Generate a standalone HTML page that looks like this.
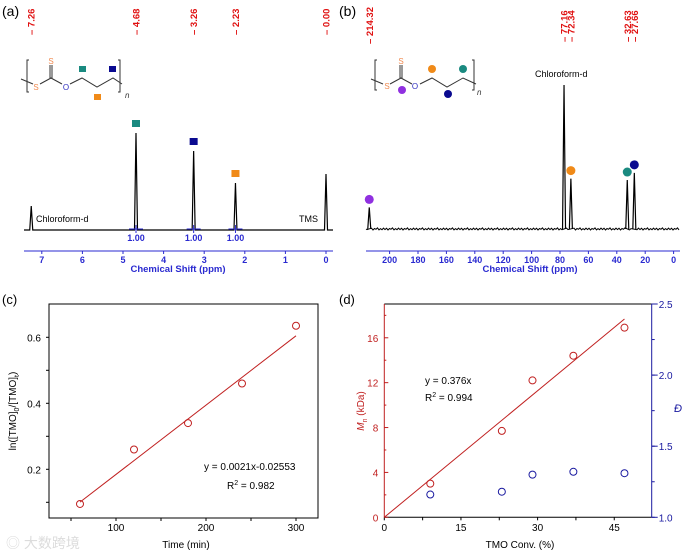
<!DOCTYPE html>
<html><head><meta charset="utf-8"><style>
html,body{margin:0;padding:0;background:#fff}
svg{display:block;font-family:"Liberation Sans",Arial,"Noto Sans CJK SC",sans-serif}
</style></head><body>
<svg id="fig" width="691" height="552" viewBox="0 0 691 552" xmlns="http://www.w3.org/2000/svg">
<g id="ga"></g>
<g id="gb"></g>
<g id="gc"></g>
<g id="gd"></g>
<text x="6" y="548" font-size="14" fill="#dcdcdc" font-family="'Liberation Sans','Noto Sans CJK SC',sans-serif">◎ 大数跨境</text>
</svg>
<script>
// ---- data ----
const hPeaksPpm = [7.26, 4.68, 3.26, 2.23, 0.00];
const hPeakLabels = ['7.26', '4.68', '3.26', '2.23', '0.00'];
const hPeakHeights = [0.24, 0.97, 0.79, 0.47, 0.56];
const hTicks = [7, 6, 5, 4, 3, 2, 1, 0];
const hIntegrals = [4.68, 3.26, 2.23];
const cPeaksPpm = [214.32, 77.16, 72.34, 32.63, 27.66];
const cPeakLabels = ['214.32', '77.16', '72.34', '32.63', '27.66'];
const cPeakHeights = [0.15, 1.0, 0.35, 0.34, 0.39];
const cTicks = [200, 180, 160, 140, 120, 100, 80, 60, 40, 20, 0];
const kinTime = [60, 120, 180, 240, 300];
const kinLn = [0.095, 0.26, 0.34, 0.46, 0.635];
const kinTicksX = [100, 200, 300];
const kinTicksY = [0.2, 0.4, 0.6];
const convX = [9, 23, 29, 37, 47];
const mnY = [3.0, 7.7, 12.2, 14.4, 16.9];
const dispY = [1.16, 1.18, 1.30, 1.32, 1.31];
const mnTicks = [0, 4, 8, 12, 16];
const dispTicks = [1.0, 1.5, 2.0, 2.5];
const convTicks = [0, 15, 30, 45];

const NS = 'http://www.w3.org/2000/svg';
function mk(parent, tag, attrs, text) {
  const e = document.createElementNS(NS, tag);
  for (const k in attrs) e.setAttribute(k, attrs[k]);
  if (text !== undefined) e.textContent = text;
  parent.appendChild(e);
  return e;
}
const RED = '#e01010', BLUE = '#2a2ad0';

// ---- panel (a) ----
(function () {
  const g = document.getElementById('ga');
  const x = p => 326 - p * 40.6;
  const base = 230, H = 100;
  const t = mk(g, 'text', { x: 2, y: 16, 'font-size': 14, fill: '#000' }, '(a)');
   
  let d = 'M24 ' + base;
  hPeaksPpm.forEach((p, i) => {
    const px = x(p);
    d += ` L${px - 1.5} ${base} L${px} ${base - hPeakHeights[i] * H} L${px + 1.5} ${base}`;
  });
  d += ' L333 ' + base;
  const sp = mk(g, 'path', { d: d, stroke: '#000', 'stroke-width': 1.2, fill: 'none' });
   
  hPeaksPpm.forEach((p, i) => {
    const px = x(p);
    const lb = mk(g, 'text', { x: 0, y: 0, transform: `translate(${px + 3.5},35) rotate(-90)`, 'font-size': 9.5, 'font-weight': 'bold', fill: RED }, '– ' + hPeakLabels[i]);
     
  });
  hIntegrals.forEach(p => {
    const px = x(p);
    mk(g, 'line', { x1: px - 7, x2: px + 7, y1: 229, y2: 229, stroke: BLUE, 'stroke-width': 1 });
    mk(g, 'line', { x1: px, x2: px, y1: 225, y2: 233, stroke: BLUE, 'stroke-width': 1 });
    const it = mk(g, 'text', { x: px, y: 241, 'font-size': 9, 'font-weight': 'bold', fill: BLUE, 'text-anchor': 'middle' }, '1.00');
     
  });
  mk(g, 'line', { x1: 24, x2: 333, y1: 251, y2: 251, stroke: BLUE, 'stroke-width': 1 });
  hTicks.forEach(v => {
    mk(g, 'line', { x1: x(v), x2: x(v), y1: 251, y2: 254, stroke: BLUE });
    const tl = mk(g, 'text', { x: x(v), y: 263, 'font-size': 9, 'font-weight': 'bold', fill: BLUE, 'text-anchor': 'middle' }, String(v));
     
  });
  const xt = mk(g, 'text', { x: 178, y: 272, 'font-size': 9.5, 'font-weight': 'bold', fill: BLUE, 'text-anchor': 'middle' }, 'Chemical Shift (ppm)');
   
  mk(g, 'text', { x: 36, y: 222, 'font-size': 9, fill: '#000' }, 'Chloroform-d');
  mk(g, 'text', { x: 299, y: 222, 'font-size': 9, fill: '#000' }, 'TMS');
  [[4.68, '#1a8a80'], [3.26, '#0a0a90'], [2.23, '#f08a18']].forEach((m, i) => {
    const r = mk(g, 'rect', { x: x(m[0]) - 4, y: base - hPeakHeights[i + 1] * H - 13, width: 8, height: 7, fill: m[1] });
     
  });
  const s = mk(g, 'g', { stroke: '#333', 'stroke-width': 1, fill: 'none' });
   
  mk(s, 'path', { d: 'M29 60 L27 60 L27 92 L29 92 M118 60 L120 60 L120 92 L118 92' });
  mk(s, 'path', { d: 'M21 79 L33 84 M40 84 L51 78 L62 84 M70 84 L82 78 L97 87 L113 78 L122 84 M50 78 L50 65 M52 78 L52 65' });
  mk(g, 'text', { x: 36, y: 90, 'font-size': 8, fill: '#f08a50', 'text-anchor': 'middle' }, 'S');
  mk(g, 'text', { x: 51, y: 64, 'font-size': 8, fill: '#f08a50', 'text-anchor': 'middle' }, 'S');
  mk(g, 'text', { x: 66, y: 90, 'font-size': 8, fill: '#3030c0', 'text-anchor': 'middle' }, 'O');
  mk(g, 'text', { x: 125, y: 98, 'font-size': 8, 'font-style': 'italic', fill: '#333' }, 'n');
  mk(g, 'rect', { x: 79, y: 66, width: 7, height: 6, fill: '#1a8a80' });
  mk(g, 'rect', { x: 109, y: 66, width: 7, height: 6, fill: '#0a0a90' });
  mk(g, 'rect', { x: 94, y: 94, width: 7, height: 6, fill: '#f08a18' });
})();

// ---- panel (b) ----
(function () {
  const g = document.getElementById('gb');
  const x = p => 673.6 - p * 1.42;
  const base = 229, H = 144;
  const t = mk(g, 'text', { x: 339, y: 16, 'font-size': 14, fill: '#000' }, '(b)');
   
  let d = 'M366 ' + base;
  const seq = [0.6, -0.8, 1.0, -0.5, 0.3, -1.1, 0.9, -0.4, 0.7, -0.9];
  let k = 0;
  const pk = cPeaksPpm.map(x);
  for (let xs = 367; xs < 680; xs += 1.5) {
    if (pk.some(p => Math.abs(p - xs) < 2)) continue;
    d += ` L${xs} ${base + seq[k++ % seq.length]}`;
  }
  const sp = mk(g, 'path', { d: d, stroke: '#000', 'stroke-width': 1, fill: 'none' });
   
  cPeaksPpm.forEach((p, i) => {
    const px = x(p);
    const pl = mk(g, 'path', { d: `M${px - 1.5} ${base} L${px} ${base - cPeakHeights[i] * H} L${px + 1.5} ${base}`, stroke: '#000', 'stroke-width': 1.2, fill: 'none' });
     
    const lb = mk(g, 'text', { x: 0, y: 0, transform: `translate(${px + 3.5},${i === 0 ? 44 : 42}) rotate(-90)`, 'font-size': 9.5, 'font-weight': 'bold', fill: RED }, '– ' + cPeakLabels[i]);
     
  });
  mk(g, 'line', { x1: 366, x2: 680, y1: 251, y2: 251, stroke: BLUE, 'stroke-width': 1 });
  cTicks.forEach(v => {
    mk(g, 'line', { x1: x(v), x2: x(v), y1: 251, y2: 254, stroke: BLUE });
    const tl = mk(g, 'text', { x: x(v), y: 263, 'font-size': 9, 'font-weight': 'bold', fill: BLUE, 'text-anchor': 'middle' }, String(v));
     
  });
  const xt = mk(g, 'text', { x: 530, y: 272, 'font-size': 9.5, 'font-weight': 'bold', fill: BLUE, 'text-anchor': 'middle' }, 'Chemical Shift (ppm)');
   
  mk(g, 'text', { x: 535, y: 77, 'font-size': 9, fill: '#000' }, 'Chloroform-d');
  [[214.32, '#9030e0', 0], [72.34, '#f08a18', 2], [32.63, '#1a8a80', 3], [27.66, '#0a0a90', 4]].forEach(m => {
    const c = mk(g, 'circle', { cx: x(m[0]), cy: base - cPeakHeights[m[2]] * H - 8, r: 4.5, fill: m[1] });
     
  });
  const s = mk(g, 'g', { stroke: '#333', 'stroke-width': 1, fill: 'none' });
   
  mk(s, 'path', { d: 'M377 60 L375 60 L375 90 L377 90 M472 60 L474 60 L474 90 L472 90' });
  mk(s, 'path', { d: 'M371 79 L383 84 M390 84 L401 78 L412 84 M420 84 L432 78 L447 87 L463 78 L476 84 M400 78 L400 65 M402 78 L402 65' });
  mk(g, 'text', { x: 387, y: 89, 'font-size': 8, fill: '#f08a50', 'text-anchor': 'middle' }, 'S');
  mk(g, 'text', { x: 401, y: 64, 'font-size': 8, fill: '#f08a50', 'text-anchor': 'middle' }, 'S');
  mk(g, 'text', { x: 415, y: 89, 'font-size': 8, fill: '#3030c0', 'text-anchor': 'middle' }, 'O');
  mk(g, 'text', { x: 477, y: 95, 'font-size': 8, 'font-style': 'italic', fill: '#333' }, 'n');
  mk(g, 'circle', { cx: 402, cy: 90, r: 4, fill: '#9030e0' });
  mk(g, 'circle', { cx: 432, cy: 69, r: 4, fill: '#f08a18' });
  mk(g, 'circle', { cx: 463, cy: 69, r: 4, fill: '#1a8a80' });
  mk(g, 'circle', { cx: 448, cy: 94, r: 4, fill: '#0a0a90' });
})();

// ---- panel (c) ----
(function () {
  const g = document.getElementById('gc');
  const L = 49, R = 318, T = 304, B = 518;
  const x = v => 26 + v * 0.9;
  const y = v => 535.3 - v * 330;
  mk(g, 'text', { x: 2, y: 304, 'font-size': 13, fill: '#000' }, '(c)');
  const fr = mk(g, 'rect', { x: L, y: T, width: R - L, height: B - T, fill: 'none', stroke: '#000', 'stroke-width': 1 });
   
  [50, 100, 150, 200, 250, 300].forEach(v => mk(g, 'line', { x1: x(v), x2: x(v), y1: B, y2: B + 3, stroke: '#000' }));
  kinTicksX.forEach(v => {
    const tl = mk(g, 'text', { x: x(v), y: 531, 'font-size': 10, fill: '#000', 'text-anchor': 'middle' }, String(v));
     
  });
  [0.1, 0.2, 0.3, 0.4, 0.5, 0.6].forEach(v => mk(g, 'line', { x1: L - 3, x2: L, y1: y(v), y2: y(v), stroke: '#000' }));
  kinTicksY.forEach(v => {
    const tl = mk(g, 'text', { x: 41, y: y(v) + 4, 'font-size': 10, fill: '#000', 'text-anchor': 'end' }, v.toFixed(1));
     
  });
  const xt = mk(g, 'text', { x: 186, y: 548, 'font-size': 10, fill: '#000', 'text-anchor': 'middle' }, 'Time (min)');
   
  const yt = mk(g, 'text', { x: 0, y: 0, transform: 'translate(16,411) rotate(-90)', 'font-size': 10, fill: '#000', 'text-anchor': 'middle' });
   
  yt.innerHTML = 'ln([TMO]<tspan font-size="7" dy="3">0</tspan><tspan dy="-3">/[TMO]</tspan><tspan font-size="7" dy="3">t</tspan><tspan dy="-3">)</tspan>';
  const fl = mk(g, 'line', { x1: x(60), y1: y(0.0021 * 60 - 0.02553), x2: x(300), y2: y(0.0021 * 300 - 0.02553), stroke: '#c02020', 'stroke-width': 1 });
   
  kinTime.forEach((t, i) => {
    const c = mk(g, 'circle', { cx: x(t), cy: y(kinLn[i]), r: 3.5, fill: 'none', stroke: '#c02020', 'stroke-width': 1 });
     
  });
  mk(g, 'text', { x: 204, y: 470, 'font-size': 10, fill: '#000' }, 'y = 0.0021x-0.02553');
  const r2 = mk(g, 'text', { x: 227, y: 489, 'font-size': 10, fill: '#000' });
  r2.innerHTML = 'R<tspan font-size="7" dy="-4">2</tspan><tspan dy="4"> = 0.982</tspan>';
})();

// ---- panel (d) ----
(function () {
  const g = document.getElementById('gd');
  const L = 384.3, R = 651.7, T = 304, B = 517.3;
  const x = v => L + v * 5.11;
  const yl = v => B - v * 11.22;
  const yr = v => B - (v - 1) * 142.2;
  const DRED = '#c02020', DBLUE = '#1a1aa0';
  mk(g, 'text', { x: 339, y: 304, 'font-size': 13, fill: '#000' }, '(d)');
  mk(g, 'line', { x1: L, x2: R, y1: T, y2: T, stroke: '#000' });
  mk(g, 'line', { x1: L, x2: R, y1: B, y2: B, stroke: '#000' });
  const la = mk(g, 'line', { x1: L, x2: L, y1: T, y2: B, stroke: DRED });
   
  const ra = mk(g, 'line', { x1: R, x2: R, y1: T, y2: B, stroke: DBLUE });
   
  [0, 7.5, 15, 22.5, 30, 37.5, 45].forEach(v => mk(g, 'line', { x1: x(v), x2: x(v), y1: B, y2: B + 3, stroke: '#000' }));
  convTicks.forEach(v => {
    const tl = mk(g, 'text', { x: x(v), y: 531, 'font-size': 10, fill: '#000', 'text-anchor': 'middle' }, String(v));
     
  });
  [0, 2, 4, 6, 8, 10, 12, 14, 16, 18].forEach(v => mk(g, 'line', { x1: L, x2: L + (v % 4 ? 2 : 4), y1: yl(v), y2: yl(v), stroke: DRED }));
  mnTicks.forEach(v => {
    const tl = mk(g, 'text', { x: L - 6, y: yl(v) + 4, 'font-size': 10, fill: DRED, 'text-anchor': 'end' }, String(v));
     
  });
  [1.0, 1.25, 1.5, 1.75, 2.0, 2.25, 2.5].forEach(v => mk(g, 'line', { x1: R, x2: R + 3, y1: yr(v), y2: yr(v), stroke: DBLUE }));
  dispTicks.forEach(v => {
    mk(g, 'line', { x1: R, x2: R + 6, y1: yr(v), y2: yr(v), stroke: DBLUE });
    const tl = mk(g, 'text', { x: R + 7, y: yr(v) + 4, 'font-size': 10, fill: DBLUE }, v.toFixed(1));
     
  });
  const xt = mk(g, 'text', { x: 520, y: 548, 'font-size': 10, fill: '#000', 'text-anchor': 'middle' }, 'TMO Conv. (%)');
   
  const yt = mk(g, 'text', { x: 0, y: 0, transform: 'translate(364,411) rotate(-90)', 'font-size': 10, fill: DRED, 'text-anchor': 'middle' });
   
  yt.innerHTML = '<tspan font-style="italic">M</tspan><tspan font-size="7" dy="3">n</tspan><tspan dy="-3"> (kDa)</tspan>';
  const rt = mk(g, 'text', { x: 678, y: 412, 'font-size': 11, 'font-style': 'italic', fill: DBLUE, 'text-anchor': 'middle' }, 'Đ');
   
  const fl = mk(g, 'line', { x1: x(0), y1: yl(0), x2: x(47), y2: yl(0.376 * 47), stroke: DRED, 'stroke-width': 1 });
   
  convX.forEach((cx, i) => {
    const a = mk(g, 'circle', { cx: x(cx), cy: yl(mnY[i]), r: 3.5, fill: 'none', stroke: DRED });
     
    const b = mk(g, 'circle', { cx: x(cx), cy: yr(dispY[i]), r: 3.5, fill: 'none', stroke: DBLUE });
     
  });
  mk(g, 'text', { x: 425, y: 384, 'font-size': 10, fill: '#000' }, 'y = 0.376x');
  const r2 = mk(g, 'text', { x: 425, y: 401, 'font-size': 10, fill: '#000' });
  r2.innerHTML = 'R<tspan font-size="7" dy="-4">2</tspan><tspan dy="4"> = 0.994</tspan>';
})();
</script>
</body></html>
